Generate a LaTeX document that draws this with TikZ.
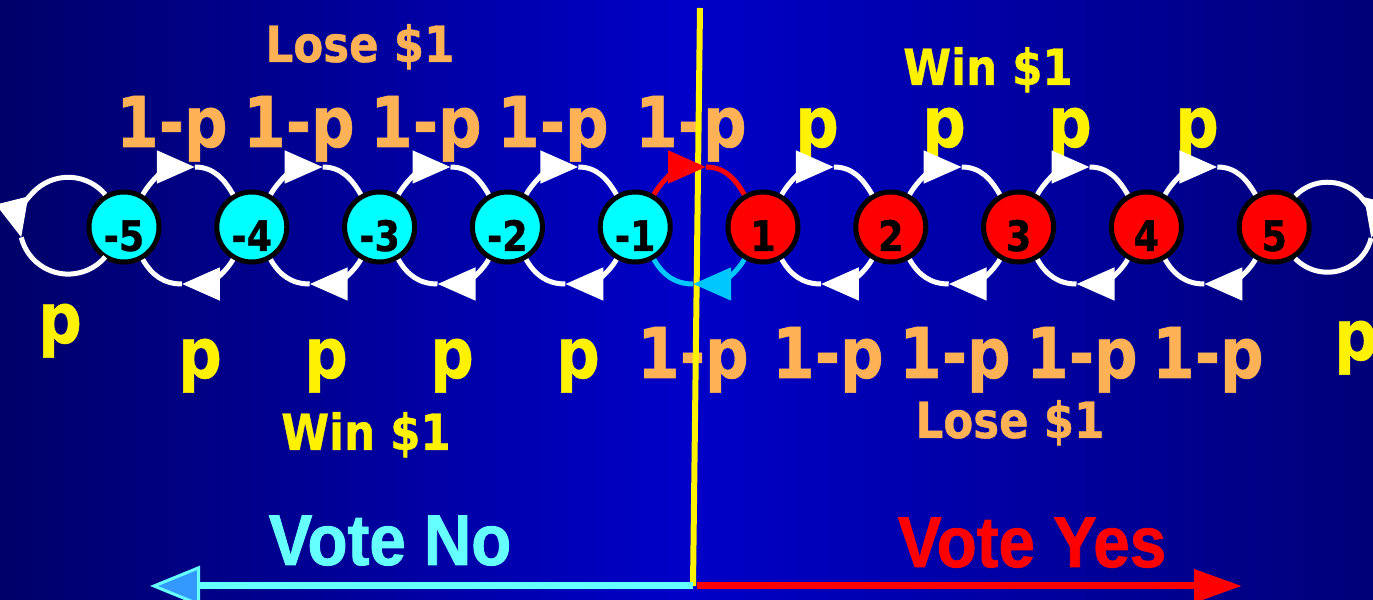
\documentclass[tikz,border=0pt]{standalone}
\usepackage{fontspec}
\usepackage{tikz}
\usetikzlibrary{positioning,arrows.meta,calc}
\newfontfamily\lblfont{DejaVu Sans}[FakeStretch=0.87,BoldFeatures={FakeBold=0.8}]
\newfontfamily\votefont{Liberation Sans}[FakeStretch=0.91,BoldFeatures={FakeBold=1.2}]
\definecolor{bgdark}{RGB}{0,0,105}
\definecolor{bgmid}{RGB}{0,0,200}
\definecolor{losecol}{RGB}{255,178,85}
\definecolor{nocol}{RGB}{102,255,255}
\definecolor{noarrow}{RGB}{51,153,255}
\definecolor{backarc}{RGB}{0,200,255}
\definecolor{nostate}{RGB}{0,255,255}
\definecolor{yesstate}{RGB}{255,0,0}

\begin{document}
\begin{tikzpicture}[x=0.5pt,y=0.5pt,
    state/.style={circle,draw=black,line width=2.5pt,minimum size=35pt,inner sep=0pt,
        text height=24pt,text depth=0pt,font=\lblfont\bfseries\fontsize{21}{21}\selectfont},
    trans/.style={white,line width=2.5pt},
    arrowhead/.style={-{Triangle[length=19pt,width=16pt]}},
    prob/.style={anchor=base,font=\lblfont\bfseries\fontsize{35}{35}\selectfont},
    payoff/.style={anchor=base,font=\lblfont\bfseries\fontsize{25}{25}\selectfont},
    vote/.style={anchor=base,font=\votefont\bfseries\fontsize{36}{36}\selectfont}
]
\useasboundingbox (0,0) rectangle (1373,600);
\fill[left color=bgdark,right color=bgdark!90!blue,middle color=bgmid] (0,0) rectangle (1373,600);

% probabilities and payoffs
\foreach \x [count=\k] in {172,299,426,553,691}
    \node[prob,losecol] (up\k) at (\x,453) {1-p};
\foreach \x [count=\k] in {817,944,1070,1197}
    \node[prob,yellow] (uq\k) at (\x,453) {p};
\foreach \x [count=\k] in {200,326,452,578}
    \node[prob,yellow] (lq\k) at (\x,222) {p};
\foreach \x [count=\k] in {693,828,955,1082,1208}
    \node[prob,losecol] (lp\k) at (\x,222) {1-p};
\node[prob,yellow] (loopl) at (60,257) {p};
\node[prob,yellow] (loopr) at (1356,240) {p};

\node[payoff,losecol] (loseup) at (360,538) {Lose \$1};
\node[payoff,yellow] (winup) at (988,515) {Win \$1};
\node[payoff,yellow] (winlow) at (366,150) {Win \$1};
\node[payoff,losecol] (loselow) at (1010,162) {Lose \$1};

% divider and vote arrows
\coordinate (divtop) at (700,592);
\coordinate (split) at (693,14);
\coordinate (yesstart) at (697,14);
\coordinate (noend) at (150,14);
\coordinate (yesend) at (1242,14);
\draw[yellow,line width=3pt] (divtop) -- (split);
\draw[nocol,line width=3.5pt,-{Triangle[length=25pt,width=20pt,line width=1.5pt,fill=noarrow]}] (split) -- (noend);
\draw[red,line width=3.5pt,-{Triangle[length=24pt,width=16pt]}] (yesstart) -- (yesend);
\node[vote,nocol] (no) at (390,35) {Vote No};
\node[vote,red] (yes) at (1032,33) {Vote Yes};

% states
\foreach \v [count=\i] in {-5,...,-1}
    \node[state,fill=nostate] (s\i) at ({124+127.8*(\i-1)},373) {\v};
\foreach \v [count=\i from 6] in {1,...,5}
    \node[state,fill=yesstate] (s\i) at ({124+127.8*(\i-1)},373) {\v};

% transitions
\foreach \i [evaluate=\i as \j using int(\i+1)] in {1,...,9} {
    \coordinate (t\i) at ($(s\i)!0.5!(s\j)+(7,60)$);
    \coordinate (b\i) at ($(s\i)!0.5!(s\j)+(-6,-57)$);
}
\foreach \i [evaluate=\i as \j using int(\i+1)] in {1,2,3,4,6,7,8,9} {
    \draw[trans,arrowhead] (s\i) to[out=60,in=180] (t\i);
    \draw[trans] (t\i) to[out=0,in=120] (s\j);
    \draw[trans,arrowhead] (s\j) to[out=240,in=0] (b\i);
    \draw[trans] (b\i) to[out=180,in=300] (s\i);
}
\draw[trans,red,arrowhead] (s5) to[out=60,in=180] (t5);
\draw[trans,red] (t5) to[out=0,in=120] (s6);
\draw[trans,backarc,arrowhead] (s6) to[out=240,in=0] (b5);
\draw[trans,backarc] (b5) to[out=180,in=300] (s5);

% self loops
\draw[trans,arrowhead] (s1.120) arc[start angle=40.1,end angle=194,radius=48.4] coordinate (l1);
\draw[trans] (l1) arc[start angle=194,end angle=319.9,radius=48.4];
\draw[trans,arrowhead] (s10.56.6) arc[start angle=135.9,end angle=-14,radius=45] coordinate (l10);
\draw[trans] (l10) arc[start angle=-14,end angle=-135.9,radius=45];
\end{tikzpicture}
\end{document}
